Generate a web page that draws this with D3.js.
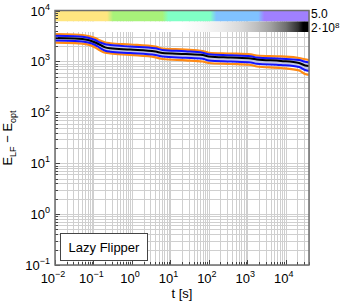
<!DOCTYPE html>
<html>
<head>
<meta charset="utf-8">
<script src="https://cdn.jsdelivr.net/npm/d3@7"></script>
<style>
  body { margin: 0; background: #fff; }
  text { font-family: "Liberation Sans", Arial, sans-serif; fill: #000; }
</style>
</head>
<body>
<svg id="chart" width="345" height="305"></svg>
<script>
// run time [s]
const times    = [0.01, 0.033, 0.073, 0.111, 0.150, 0.202, 0.273, 0.908, 4.08, 6.22, 24.8, 68.9, 98.9, 371, 1234, 1770, 7500, 22100, 31700, 40000];
// percentiles of E_LF - E_opt
const orangeHi = [3450, 3380, 3160, 2880, 2570, 2350, 2270, 2150, 1945, 1790, 1710, 1600, 1480, 1430, 1370, 1305, 1250, 1165, 1100, 1065];
const blueHi   = [3200, 3130, 2920, 2630, 2350, 2170, 2100, 1960, 1810, 1675, 1580, 1480, 1380, 1320, 1260, 1190, 1130, 1065, 986, 951];
const median   = [2880, 2820, 2630, 2350, 2100, 1890, 1810, 1710, 1565, 1460, 1400, 1340, 1250, 1190, 1140, 1090, 1020, 930, 831, 812];
const blueLo   = [2570, 2520, 2350, 2100, 1830, 1620, 1550, 1460, 1340, 1250, 1180, 1130, 1040, 995, 950, 900, 850, 776, 678, 648];
const orangeLo = [2330, 2280, 2130, 1880, 1640, 1480, 1440, 1340, 1200, 1115, 1050, 995, 930, 890, 850, 794, 742, 663, 566, 540];

// stage colour band (boundaries in time) and grey parameter band
const stageBounds = [0.27, 7.4, 130, 2300];
const stageColors = ["#ffe680", "#a8f27a", "#80ffc6", "#80c2ff", "#a080ff"];
const greyTimes  = [0.01, 18, 61, 203, 676, 1660, 4100, 10000, 21000, 28000, 40000];
const greyLevels = [255, 255, 248, 236, 216, 192, 160, 112, 48, 0, 0];

const xTicks = [1e-2, 1e-1, 1e0, 1e1, 1e2, 1e3, 1e4];
const xExps  = ["\u22122", "\u22121", "0", "1", "2", "3", "4"];
const yTicks = [1e-1, 1e0, 1e1, 1e2, 1e3, 1e4];
const yExps  = ["\u22121", "0", "1", "2", "3", "4"];

const L = 55, R = 309, T = 10.5, B = 265;
const svg = d3.select("#chart");

const x = d3.scaleLog().domain([0.01, 40000]).range([L, R]);
const y = d3.scaleLog().domain([0.1, 1e4]).range([B, T]);

// minor positions
const minorX = [], minorY = [];
for (let e = -2; e <= 4; e++) for (let k = 1; k < 10; k++) { const v = k * Math.pow(10, e); if (v <= 40000) minorX.push(v); }
for (let e = -1; e <= 3; e++) for (let k = 1; k < 10; k++) minorY.push(k * Math.pow(10, e));

// grid
const grid = svg.append("g").attr("stroke", "#cfcfcf").attr("stroke-width", 1);
grid.selectAll(".gx").data(minorX).enter().append("line")
  .attr("x1", d => Math.round(x(d)) + 0.5).attr("x2", d => Math.round(x(d)) + 0.5)
  .attr("y1", T).attr("y2", B);
grid.selectAll(".gy").data(minorY).enter().append("line")
  .attr("y1", d => Math.round(y(d)) + 0.5).attr("y2", d => Math.round(y(d)) + 0.5)
  .attr("x1", L).attr("x2", R);

// top bands
const defs = svg.append("defs");
const cg = defs.append("linearGradient").attr("id", "stage")
  .attr("gradientUnits", "userSpaceOnUse").attr("x1", L).attr("x2", R).attr("y1", 0).attr("y2", 0);
const off = px => Math.max(0, Math.min(1, (px - L) / (R - L)));
cg.append("stop").attr("offset", 0).attr("stop-color", stageColors[0]);
stageBounds.forEach((b, i) => {
  cg.append("stop").attr("offset", off(x(b) - 3)).attr("stop-color", stageColors[i]);
  cg.append("stop").attr("offset", off(x(b) + 3)).attr("stop-color", stageColors[i + 1]);
});
cg.append("stop").attr("offset", 1).attr("stop-color", stageColors[stageColors.length - 1]);

const gg = defs.append("linearGradient").attr("id", "grey")
  .attr("gradientUnits", "userSpaceOnUse").attr("x1", L).attr("x2", R).attr("y1", 0).attr("y2", 0);
greyTimes.forEach((t, i) => {
  const g = greyLevels[i];
  gg.append("stop").attr("offset", off(x(t))).attr("stop-color", d3.rgb(g, g, g));
});

svg.append("rect").attr("x", L).attr("y", T).attr("width", R - L).attr("height", 11).attr("fill", "url(#stage)");
svg.append("rect").attr("x", L).attr("y", T + 11).attr("width", R - L).attr("height", 10.5).attr("fill", "url(#grey)");

// data
const idx = d3.range(times.length);
const line = arr => d3.line().x(i => x(times[i])).y(i => y(arr[i])).curve(d3.curveMonotoneX)(idx);
const band = d3.area().x(i => x(times[i])).y0(i => y(blueLo[i])).y1(i => y(blueHi[i])).curve(d3.curveMonotoneX);

svg.append("path").attr("d", band(idx)).attr("fill", "#c2c6e6");
[[orangeHi, "#ff8a14", 2.2], [orangeLo, "#ff8a14", 2.2], [blueHi, "#1414ff", 2], [blueLo, "#1414ff", 2], [median, "#000", 2]]
  .forEach(([arr, c, w]) => {
    svg.append("path").attr("d", line(arr)).attr("fill", "none").attr("stroke", c).attr("stroke-width", w);
  });

// inward ticks
const tk = svg.append("g").attr("stroke", "#444").attr("stroke-width", 1);
tk.selectAll(".tx").data(minorX).enter().append("line")
  .attr("x1", d => Math.round(x(d)) + 0.5).attr("x2", d => Math.round(x(d)) + 0.5)
  .attr("y1", B).attr("y2", d => B - (xTicks.includes(d) ? 5 : 3));
tk.selectAll(".ty").data(minorY.concat([1e4])).enter().append("line")
  .attr("y1", d => Math.round(y(d)) + 0.5).attr("y2", d => Math.round(y(d)) + 0.5)
  .attr("x1", L).attr("x2", d => L + (yTicks.includes(d) ? 5 : 3));

// frame
svg.append("rect").attr("x", L).attr("y", T).attr("width", R - L).attr("height", B - T)
  .attr("fill", "none").attr("stroke", "#6e6e6e").attr("stroke-width", 1.5);

// tick labels
xTicks.forEach((t, i) => {
  const tx = svg.append("text").attr("x", x(t) - 2).attr("y", 283).attr("text-anchor", "middle").attr("font-size", 13);
  tx.append("tspan").text("10");
  tx.append("tspan").attr("dy", -6).attr("font-size", 9).text(xExps[i]);
});
yTicks.forEach((t, i) => {
  const ty = svg.append("text").attr("x", 50).attr("y", y(t) + 5).attr("text-anchor", "end").attr("font-size", 13);
  ty.append("tspan").text("10");
  ty.append("tspan").attr("dy", -6).attr("font-size", 9).text(yExps[i]);
});

// axis titles
svg.append("text").attr("x", 182).attr("y", 298).attr("text-anchor", "middle").attr("font-size", 13).text("t [s]");
const yl = svg.append("text").attr("transform", "translate(12,138) rotate(-90)").attr("text-anchor", "middle").attr("font-size", 13);
yl.append("tspan").text("E");
yl.append("tspan").attr("dy", 4).attr("font-size", 9).text("LF");
yl.append("tspan").attr("dy", -4).text(" \u2212 E");
yl.append("tspan").attr("dy", 4).attr("font-size", 9).text("opt");

// band labels
svg.append("text").attr("x", 311).attr("y", 17.5).attr("font-size", 12).text("5.0");
const bl = svg.append("text").attr("x", 311).attr("y", 32).attr("font-size", 12);
bl.append("tspan").text("2\u00b710");
bl.append("tspan").attr("dy", -4).attr("font-size", 8).text("8");

// legend
svg.append("rect").attr("x", 60.5).attr("y", 233.5).attr("width", 87).attr("height", 27)
  .attr("fill", "#fff").attr("stroke", "#444").attr("stroke-width", 1);
svg.append("text").attr("x", 104).attr("y", 252).attr("text-anchor", "middle").attr("font-size", 13).text("Lazy Flipper");
</script>
</body>
</html>
